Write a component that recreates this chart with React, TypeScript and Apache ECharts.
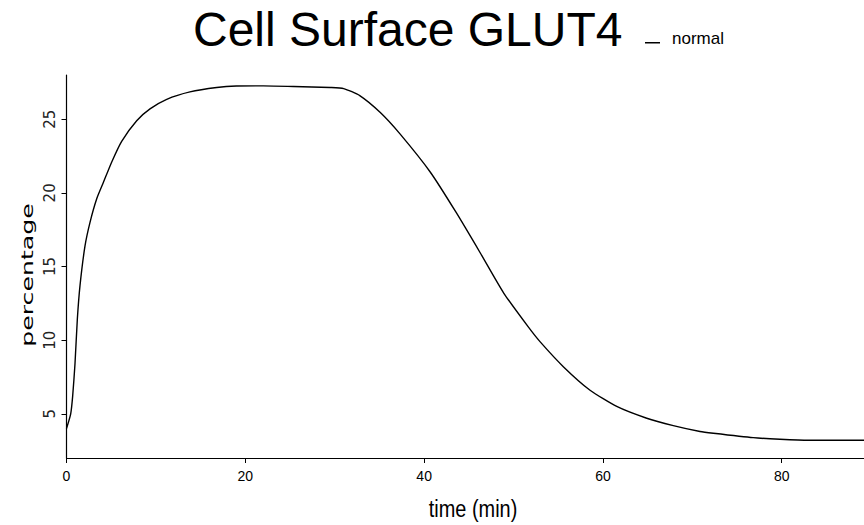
import React, { useEffect, useRef } from "react";
import * as echarts from "echarts";

const time = [0, 0.47, 0.69, 0.95, 1.21, 1.51, 2.07, 2.63, 3.38, 4.12, 5.06, 6.17, 7.85, 9.34, 11.21, 13.81, 16.8, 19.0, 22.0, 25.4, 29.5, 31.0, 32.8, 35.1, 37.3, 40.7, 43.6, 46.3, 48.9, 51.65, 52.96, 55.57, 58.56, 61.54, 64.9, 67.87, 70.86, 72.35, 76.8, 79.8, 83.0, 89.2];
const normal = [4.0, 5.0, 6.2, 8.4, 11.4, 13.7, 16.4, 18.0, 19.6, 20.7, 22.1, 23.5, 24.9, 25.7, 26.35, 26.85, 27.15, 27.25, 27.26, 27.22, 27.15, 27.08, 26.6, 25.45, 24.0, 21.4, 18.65, 15.9, 13.2, 10.9, 9.9, 8.2, 6.6, 5.5, 4.7, 4.2, 3.8, 3.68, 3.38, 3.27, 3.2, 3.2];
const xTicks = [0, 20, 40, 60, 80];
const yTicks = [5, 10, 15, 20, 25];

const sans = "'Liberation Sans', Arial, sans-serif";

export default function App() {
  const ref = useRef<HTMLDivElement>(null);
  useEffect(() => {
    if (!ref.current) return;
    const chart = echarts.init(ref.current, null, { renderer: "svg" });
    chart.setOption({
      animation: false,
      backgroundColor: "#fff",
      title: {
        text: "Cell Surface GLUT4",
        left: 193,
        top: 5,
        padding: 0,
        textStyle: { fontFamily: sans, fontSize: 48, fontWeight: "normal", color: "#000" },
      },
      legend: {
        left: 645,
        top: 30,
        padding: 0,
        icon: "path://M0,0 L0.01,0 L0,0.01 Z M0,8.5 L15,8.5 L15,10 L0,10 Z",
        itemWidth: 15,
        itemHeight: 10,
        data: ["normal"],
        textStyle: { fontFamily: sans, fontSize: 17, color: "#000", padding: [0, 0, 0, 7] },
      },
      grid: { left: 66.5, right: 0, top: 75, bottom: 67, containLabel: false },
      xAxis: {
        type: "value",
        min: 0,
        max: 89.2,
        axisLine: { show: true, lineStyle: { color: "#000", width: 1.2 } },
        axisTick: { show: true, length: 5, lineStyle: { color: "#000" }, customValues: xTicks },
        axisLabel: { customValues: xTicks, margin: 11, fontFamily: sans, fontSize: 14, color: "#000" },
        splitLine: { show: false },
      },
      yAxis: {
        type: "value",
        min: 2,
        max: 28,
        axisLine: { show: true, lineStyle: { color: "#000", width: 1.2 } },
        axisTick: { show: true, length: 5, lineStyle: { color: "#000" }, customValues: yTicks },
        axisLabel: { customValues: yTicks, rotate: 90, margin: 9, fontFamily: "'DejaVu Sans', sans-serif", fontSize: 15, color: "#222" },
        splitLine: { show: false },
      },
      graphic: [
        {
          type: "text",
          x: 27.5,
          y: 275,
          rotation: Math.PI / 2,
          scaleX: 1.68,
          style: { text: "percentage", fontFamily: "'DejaVu Sans', sans-serif", fontSize: 15, fill: "#000", align: "center", verticalAlign: "middle" },
        },
        {
          type: "text",
          x: 473,
          y: 509,
          scaleX: 0.83,
          style: { text: "time (min)", fontFamily: sans, fontSize: 24, fill: "#000", align: "center", verticalAlign: "middle" },
        },
      ],
      series: [
        {
          name: "normal",
          type: "line",
          data: time.map((t, i) => [t, normal[i]]),
          showSymbol: false,
          symbol: "none",
          smooth: 0.2,
          lineStyle: { color: "#000", width: 1.4 },
          itemStyle: { color: "#000" },
        },
      ],
    });
    return () => chart.dispose();
  }, []);
  return <div ref={ref} style={{ position: "absolute", left: 0, top: 0, width: 864, height: 525 }} />;
}
